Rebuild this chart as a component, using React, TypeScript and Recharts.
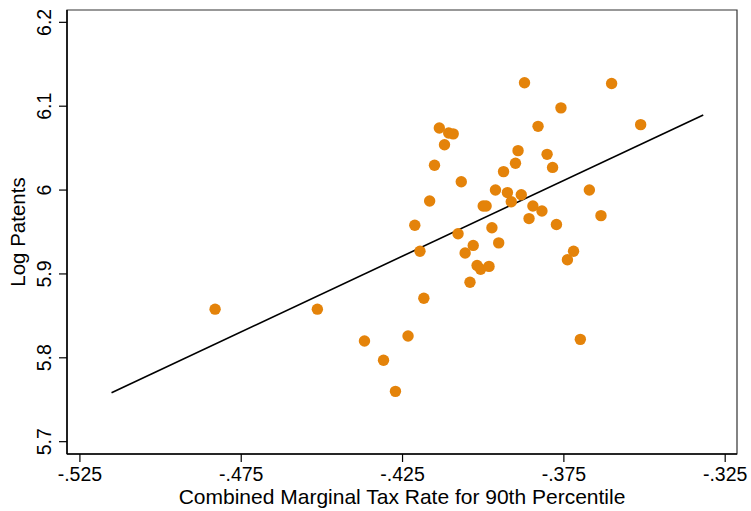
import {
  ScatterChart,
  Scatter,
  XAxis,
  YAxis,
  ReferenceLine,
  ReferenceArea,
} from "recharts";

// Combined marginal tax rate (90th pct) per state
const taxRate = [
  -0.4831, -0.4514, -0.4368, -0.4309, -0.4272, -0.4233, -0.4212, -0.4196,
  -0.4184, -0.4166, -0.4151, -0.4136, -0.412, -0.4107, -0.4093, -0.4078,
  -0.4068, -0.4056, -0.4041, -0.4031, -0.4019, -0.4008, -0.4, -0.3991,
  -0.3982, -0.3973, -0.3962, -0.3952, -0.3937, -0.3925, -0.3913, -0.39,
  -0.3892, -0.3882, -0.3872, -0.3858, -0.3846, -0.383, -0.3818, -0.3802,
  -0.3785, -0.3773, -0.3759, -0.3739, -0.372, -0.3699, -0.3671, -0.3635,
  -0.3602, -0.3512,
];

const logPatents = [
  5.858, 5.858, 5.82, 5.797, 5.76, 5.826, 5.958, 5.927, 5.871, 5.987, 6.0295,
  6.074, 6.054, 6.068, 6.067, 5.948, 6.01, 5.925, 5.89, 5.934, 5.91, 5.9055,
  5.981, 5.981, 5.909, 5.955, 6.0, 5.937, 6.022, 5.997, 5.986, 6.032, 6.047,
  5.9945, 6.128, 5.966, 5.981, 6.076, 5.975, 6.0426, 6.027, 5.959, 6.098,
  5.917, 5.927, 5.822, 6.0, 5.9695, 6.127, 6.078,
];

// fitted line end points
const fitX = [-0.5152, -0.3318];
const fitY = [5.7584, 6.0896];

const xTicks = [-0.525, -0.475, -0.425, -0.375, -0.325];
const xTickLabels = ["-.525", "-.475", "-.425", "-.375", "-.325"];
const yTicks = [5.7, 5.8, 5.9, 6.0, 6.1, 6.2];
const yTickLabels = ["5.7", "5.8", "5.9", "6", "6.1", "6.2"];

const X_DOMAIN: [number, number] = [-0.529, -0.32134];
const Y_DOMAIN: [number, number] = [5.6853, 6.2147];

const DOT = "#E4830A";
const FONT = "'Liberation Sans', Arial, Helvetica, sans-serif";

const points = taxRate.map((x, i) => ({ x, y: logPatents[i] }));

const XTick = ({ x, y, payload }: any) => {
  const idx = xTicks.indexOf(payload.value);
  return (
    <text
      x={x}
      y={y}
      dy={17}
      textAnchor="middle"
      fontSize={19.5}
      fontFamily={FONT}
      fill="#000"
    >
      {idx >= 0 ? xTickLabels[idx] : payload.value}
    </text>
  );
};

const YTick = ({ x, y, payload }: any) => {
  const idx = yTicks.indexOf(payload.value);
  return (
    <text
      x={x}
      y={y}
      textAnchor="middle"
      fontSize={19.5}
      fontFamily={FONT}
      fill="#000"
      transform={`rotate(-90, ${x}, ${y})`}
      dy={-6}
    >
      {idx >= 0 ? yTickLabels[idx] : payload.value}
    </text>
  );
};

export default function App() {
  return (
    <div style={{ position: "absolute", left: 0, top: 0, background: "#fff" }}>
      <ScatterChart
        width={751}
        height={511}
        margin={{ top: 10, right: 14, bottom: 0, left: 0 }}
      >
        <XAxis
          type="number"
          dataKey="x"
          domain={X_DOMAIN}
          ticks={xTicks}
          tick={<XTick />}
          tickSize={8}
          height={57}
          axisLine={{ stroke: "#000", strokeWidth: 1.5 }}
          tickLine={{ stroke: "#000", strokeWidth: 1.2 }}
          allowDataOverflow
          label={{
            value: "Combined Marginal Tax Rate for 90th Percentile",
            position: "insideBottom",
            offset: 7,
            style: { fontSize: 21, fontFamily: FONT, fill: "#000" },
          }}
        />
        <YAxis
          type="number"
          dataKey="y"
          domain={Y_DOMAIN}
          ticks={yTicks}
          tick={<YTick />}
          tickSize={8}
          width={67}
          axisLine={{ stroke: "#000", strokeWidth: 1.5 }}
          tickLine={{ stroke: "#000", strokeWidth: 1.2 }}
          allowDataOverflow
          label={{
            value: "Log Patents",
            angle: -90,
            position: "insideLeft",
            offset: 18,
            style: {
              fontSize: 20.5,
              fontFamily: FONT,
              fill: "#000",
              textAnchor: "middle",
            },
          }}
        />
        {/* plot frame */}
        <ReferenceArea
          x1={X_DOMAIN[0]}
          x2={X_DOMAIN[1]}
          y1={Y_DOMAIN[0]}
          y2={Y_DOMAIN[1]}
          fill="none"
          stroke="#333"
          strokeWidth={1.2}
          ifOverflow="visible"
        />
        <ReferenceLine
          segment={[
            { x: fitX[0], y: fitY[0] },
            { x: fitX[1], y: fitY[1] },
          ]}
          stroke="#000"
          strokeWidth={1.6}
        />
        <Scatter
          data={points}
          fill={DOT}
          isAnimationActive={false}
          shape={(p: any) => (
            <circle cx={p.cx} cy={p.cy} r={5.7} fill={DOT} />
          )}
        />
      </ScatterChart>
    </div>
  );
}
